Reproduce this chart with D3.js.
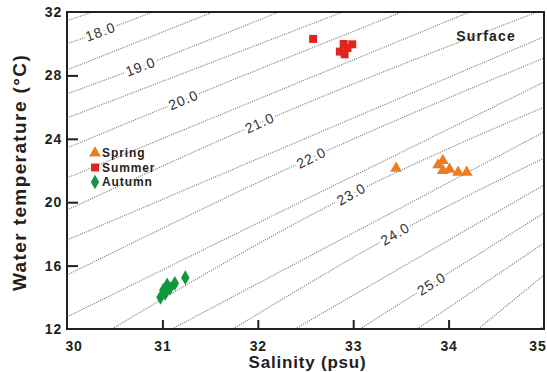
<!DOCTYPE html>
<html>
<head>
<meta charset="utf-8">
<script src="https://cdn.jsdelivr.net/npm/d3@7"></script>
<style>
  body { margin: 0; background: #fff; }
  svg { display: block; font-family: "Liberation Sans", Arial, sans-serif; }
</style>
</head>
<body>
<svg id="chart" width="547" height="372"></svg>
<script>
// axis ticks
const salinityTicks = [30, 31, 32, 33, 34, 35];
const tempTicks = [12, 16, 20, 24, 28, 32];

const springS = [33.45, 33.89, 33.94, 33.94, 34.01, 34.10, 34.19];
const springT = [22.14, 22.35, 22.62, 21.99, 22.08, 21.89, 21.89];
const summerS = [32.58, 32.90, 32.99, 32.86, 32.91, 32.94];
const summerT = [30.30, 29.98, 29.96, 29.50, 29.33, 29.73];
const autumnS = [30.98, 31.01, 31.05, 31.08, 31.13, 31.24, 31.03];
const autumnT = [14.00, 14.46, 14.78, 14.57, 14.88, 15.24, 14.25];

// sigma-t isolines as [salinity, temperature] points
const sigmaLevels = [17.5, 18.0, 18.5, 19.0, 19.5, 20.0, 20.5, 21.0, 21.5, 22.0,
  22.5, 23.0, 23.5, 24.0, 24.5, 25.0, 25.5, 26.0, 26.5];
const sigmaLines = [
  [[30, 31.45], [30.27, 32]],
  [[30, 29.98], [30.35, 30.75], [30.9, 32]],
  [[30, 28.34], [31.53, 32]],
  [[30, 26.83], [30.77, 28.55], [32.22, 32]],
  [[30, 25.31], [32.89, 32]],
  [[30, 23.42], [31.22, 26.45], [33.51, 32]],
  [[30, 21.53], [34.22, 32]],
  [[30, 19.51], [32.02, 25.0], [34.93, 32]],
  [[30, 17.61], [35, 30.44]],
  [[30, 15.40], [32.56, 22.8], [35, 29.10]],
  [[30, 12.76], [35, 27.58]],
  [[30.47, 12], [32.98, 20.5], [35, 26.0]],
  [[31.1, 12], [35, 24.43]],
  [[31.74, 12], [33.44, 18.0], [35, 22.79]],
  [[32.39, 12], [35, 21.09]],
  [[33.07, 12], [33.82, 14.85], [35, 19.32]],
  [[33.67, 12], [35, 17.43]],
  [[34.31, 12], [35, 15.4]],
  [[34.95, 12], [35, 12.2]]
];
// labelled isolines and where their labels sit
const labelLevels = [18.0, 19.0, 20.0, 21.0, 22.0, 23.0, 24.0, 25.0];
const labelS = [30.35, 30.77, 31.22, 32.02, 32.56, 32.98, 33.44, 33.82];

const svg = d3.select('#chart');
const margin = { top: 12, right: 3, bottom: 43, left: 67 };
const width = 547 - margin.left - margin.right;
const height = 372 - margin.top - margin.bottom;

const x = d3.scaleLinear().domain([30, 35]).range([0, width]);
const y = d3.scaleLinear().domain([12, 32]).range([height, 0]);

const chart = svg.append('g')
  .attr('transform', `translate(${margin.left}, ${margin.top})`);

svg.append('defs').append('clipPath').attr('id', 'plot-clip')
  .append('rect').attr('width', width).attr('height', height);

// isolines
const line = d3.line()
  .x(d => x(d[0]))
  .y(d => y(d[1]))
  .curve(d3.curveMonotoneX);

const iso = chart.append('g').attr('clip-path', 'url(#plot-clip)');
iso.selectAll('.iso')
  .data(sigmaLines)
  .enter()
  .append('path')
  .attr('class', 'iso')
  .attr('d', line)
  .attr('fill', 'none')
  .attr('stroke', '#777')
  .attr('stroke-width', 1.1)
  .attr('stroke-dasharray', '1.1,1.2');

// isoline labels, rotated along the local slope
function tAt(pts, s) {
  for (let i = 0; i < pts.length - 1; i++) {
    if (s >= pts[i][0] && s <= pts[i + 1][0]) {
      const f = (s - pts[i][0]) / (pts[i + 1][0] - pts[i][0]);
      return { t: pts[i][1] + f * (pts[i + 1][1] - pts[i][1]), i: i };
    }
  }
  return { t: pts[0][1], i: 0 };
}
labelLevels.forEach((lev, k) => {
  const pts = sigmaLines[sigmaLevels.indexOf(lev)];
  const hit = tAt(pts, labelS[k]);
  const a = pts[hit.i], b = pts[hit.i + 1];
  const ang = Math.atan2(y(b[1]) - y(a[1]), x(b[0]) - x(a[0])) * 180 / Math.PI;
  chart.append('text')
    .attr('transform', `translate(${x(labelS[k])}, ${y(hit.t)}) rotate(${ang})`)
    .attr('text-anchor', 'middle')
    .attr('dy', '0.35em')
    .attr('font-size', 14)
    .attr('letter-spacing', 0.9)
    .attr('fill', '#333')
    .attr('stroke', '#fff')
    .attr('stroke-width', 5)
    .attr('paint-order', 'stroke')
    .text(lev.toFixed(1));
});

// frame
chart.append('rect')
  .attr('width', width).attr('height', height)
  .attr('fill', 'none').attr('stroke', '#231f20').attr('stroke-width', 2);

// axes
const xAxis = d3.axisBottom(x).tickValues(salinityTicks).tickFormat(d3.format('d'))
  .tickSizeInner(-9).tickSizeOuter(0).tickPadding(12);
const yAxis = d3.axisLeft(y).tickValues(tempTicks).tickFormat(d3.format('d'))
  .tickSizeInner(-11).tickSizeOuter(0).tickPadding(5);

const gx = chart.append('g').attr('transform', `translate(0, ${height})`).call(xAxis);
const gy = chart.append('g').call(yAxis);
[gx, gy].forEach(g => {
  g.select('.domain').remove();
  g.selectAll('line').attr('stroke', '#231f20').attr('stroke-width', 2);
  g.selectAll('text').attr('font-size', 14).attr('font-weight', 'bold')
    .attr('fill', '#231f20').attr('letter-spacing', 0.8);
});
gx.selectAll('.tick').filter(d => d === 30 || d === 35).select('line').remove();
gy.selectAll('.tick').filter(d => d === 12 || d === 32).select('line').remove();
// end labels kept inside the frame width, as in the original
gx.selectAll('.tick').filter(d => d === 30).select('text').attr('text-anchor', 'start').attr('x', -2);
gx.selectAll('.tick').filter(d => d === 35).select('text').attr('text-anchor', 'end').attr('x', 2);

chart.append('text')
  .attr('x', width / 2 + 2).attr('y', height + 39)
  .attr('text-anchor', 'middle')
  .attr('font-size', 17).attr('font-weight', 'bold').attr('letter-spacing', 0.8)
  .attr('fill', '#231f20')
  .text('Salinity (psu)');

chart.append('text')
  .attr('transform', `translate(-41, ${height / 2 + 2}) rotate(-90)`)
  .attr('text-anchor', 'middle')
  .attr('font-size', 19).attr('font-weight', 'bold').attr('letter-spacing', 1.4)
  .attr('fill', '#231f20')
  .text('Water temperature (°C)');

chart.append('text')
  .attr('x', 449).attr('y', 29)
  .attr('text-anchor', 'end')
  .attr('font-size', 14).attr('font-weight', 'bold').attr('letter-spacing', 1.2)
  .attr('fill', '#231f20')
  .text('Surface');

// observations
const series = [
  { name: 'Spring', s: springS, t: springT, symbol: d3.symbolTriangle, size: 60, color: '#ec7d1f' },
  { name: 'Summer', s: summerS, t: summerT, symbol: d3.symbolSquare, size: 64, color: '#e0251f' },
  { name: 'Autumn', s: autumnS, t: autumnT, symbol: d3.symbolDiamond, size: 62, color: '#11963e' }
];

series.forEach(sr => {
  chart.append('g').selectAll('path')
    .data(sr.s.map((s, i) => [s, sr.t[i]]))
    .enter()
    .append('path')
    .attr('transform', d => `translate(${x(d[0])}, ${y(d[1])})`)
    .attr('d', d3.symbol().type(sr.symbol).size(sr.size))
    .attr('fill', sr.color);
});

// legend
const legend = chart.append('g').attr('transform', 'translate(28, 141)');
series.forEach((sr, i) => {
  const row = legend.append('g').attr('transform', `translate(0, ${i * 14.5})`);
  row.append('path')
    .attr('d', d3.symbol().type(sr.symbol).size(sr.size))
    .attr('fill', sr.color);
  row.append('text')
    .attr('x', 7).attr('dy', '0.36em')
    .attr('font-size', 12).attr('font-weight', 'bold').attr('letter-spacing', 0.9)
    .attr('fill', '#231f20')
    .text(sr.name);
});
</script>
</body>
</html>
